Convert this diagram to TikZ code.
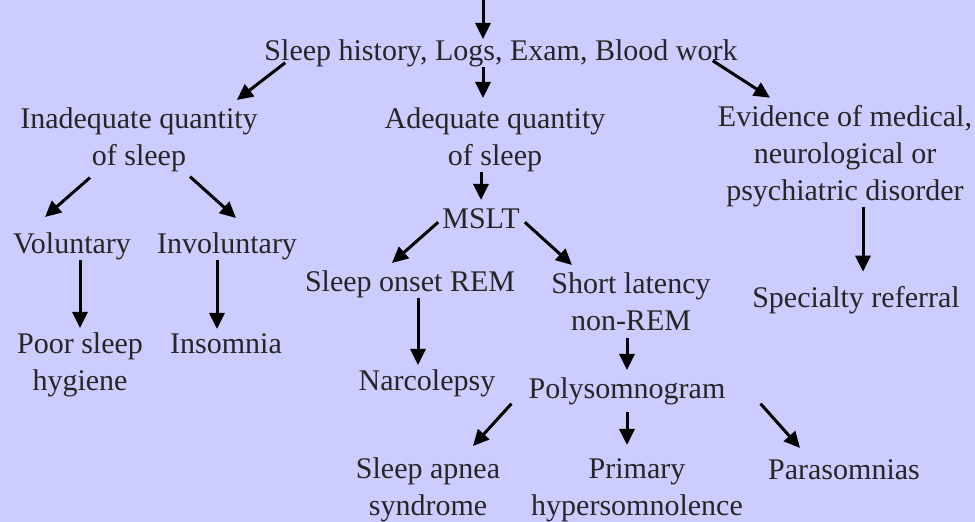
\documentclass[tikz,border=0pt]{standalone}
\usepackage{fontspec}
\setmainfont{Liberation Serif}
\newfontfamily\chartfont{Liberation Serif}
\usetikzlibrary{arrows.meta}
\definecolor{lavender}{RGB}{204,204,255}

\begin{document}
\begin{tikzpicture}[x=1pt,y=-1pt,
    every node/.style={inner sep=0pt,anchor=base,align=center,text=black!85,
      font=\chartfont\fontsize{30}{37}\selectfont},
    arr/.style={line width=3pt,-{Triangle[length=16pt,width=15pt]}}]
    \fill[lavender] (0,0) rectangle (975,522);
    \useasboundingbox (0,0) rectangle (975,522);
    \coordinate (top) at (483,0);

    % nodes sit on the baseline of their last line
    \node (hist) at (501,60) {Sleep history, Logs, Exam, Blood work};
    \node (inad) at (139,165) {Inadequate quantity\\of sleep};
    \node (adeq) at (495,165) {Adequate quantity\\of sleep};
    \node (evid) at (845,200) {Evidence of medical,\\neurological or\\psychiatric disorder};
    \node (vol) at (72,253) {Voluntary};
    \node (invol) at (227,253) {Involuntary};
    \node (mslt) at (481,228) {MSLT};
    \node (sorem) at (410,291) {Sleep onset REM};
    \node (short) at (631,330) {Short latency\\non-REM};
    \node (spec) at (856,307) {Specialty referral};
    \node (poor) at (80,390) {Poor sleep\\hygiene};
    \node (insom) at (226,353) {Insomnia};
    \node (narc) at (427,390) {Narcolepsy};
    \node (poly) at (627,398) {Polysomnogram};
    \node (apnea) at (428,515) {Sleep apnea\\syndrome};
    \node (prim) at (637,515) {Primary\\hypersomnolence};
    \node (para) at (844,479) {Parasomnias};

    % top level
    \draw[arr] (top) -- (top |- hist.north);
    \draw[arr] ([shift={(21,-4)}]hist.south west) -- ([shift={(-21,-7)}]inad.north east);
    \draw[arr,shorten >=9pt] (top |- hist.south) -- (top |- adeq.north);
    \draw[arr] ([shift={(-25,-6)}]hist.south east) -- ([shift={(-75,-7)}]evid.north);
    % inadequate sleep
    \draw[arr] ([shift={(-49,6)}]inad.south) -- ([shift={(-27,-15)}]vol.north);
    \draw[arr] ([shift={(51,5)}]inad.south) -- ([shift={(9,-14)}]invol.north);
    \draw[arr,shorten >=4pt] (poor.north |- vol.south) -- (poor.north);
    \draw[arr,shorten >=4pt] ([shift={(-10,0)}]invol.south) -- ([shift={(-9,0)}]insom.north);
    % adequate sleep
    \draw[arr,shorten >=8pt] (mslt.north |- adeq.south) -- (mslt.north);
    \draw[arr] ([shift={(-4,4)}]mslt.west) -- ([shift={(-18,-7)}]sorem.north);
    \draw[arr] ([shift={(5,4)}]mslt.east) -- ([shift={(-59,-7)}]short.north);
    \draw[arr,shorten >=4pt] ([shift={(8,0)}]sorem.south) -- ([shift={(-9,0)}]narc.north);
    \draw[arr,shorten >=7pt] ([shift={(-4,8)}]short.south) -- (poly.north);
    \draw[arr] ([shift={(-17,-1)}]poly.south west) -- ([shift={(45,-11)}]apnea.north);
    \draw[arr,shorten >=13pt] ([shift={(0,7)}]poly.south) -- ([shift={(-10,0)}]prim.north);
    \draw[arr] ([shift={(35,-1)}]poly.south east) -- ([shift={(-44,-11)}]para.north);
    % other disorders
    \draw[arr,shorten >=14pt] ([shift={(18,0)}]evid.south) -- ([shift={(7,0)}]spec.north);
\end{tikzpicture}
\end{document}
